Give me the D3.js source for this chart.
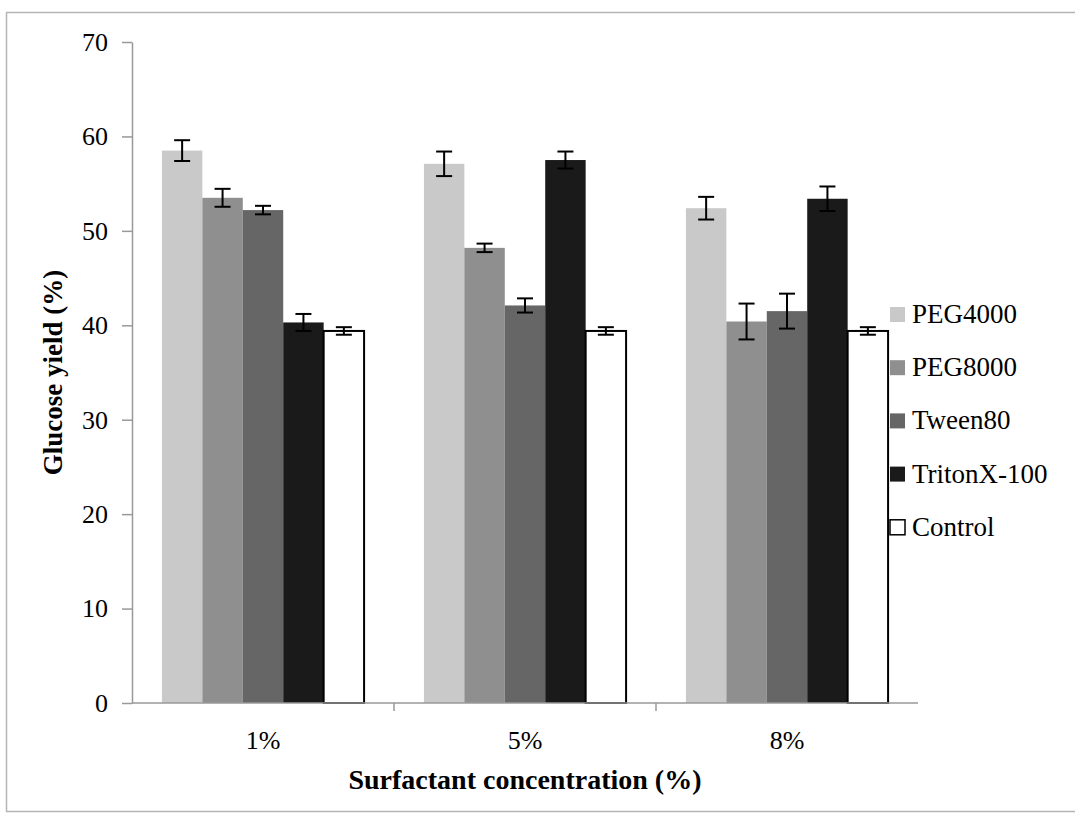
<!DOCTYPE html>
<meta charset="utf-8">

<!-- Load d3.js -->
<script src="https://d3js.org/d3.v7.min.js"></script>

<style>
  body { margin: 0; background: #fff; }
  text { font-family: "Liberation Serif", "Times New Roman", serif; fill: #000; }
</style>

<svg id="dataviz" width="1075" height="818"></svg>

<script>

// chart values
var groups = ["1%", "5%", "8%"];
var series = ["PEG4000", "PEG8000", "Tween80", "TritonX-100", "Control"];
var peg4000 = [58.5, 57.1, 52.4];
var peg8000 = [53.5, 48.2, 40.4];
var tween80 = [52.2, 42.1, 41.5];
var triton = [40.3, 57.5, 53.4];
var control = [39.4, 39.4, 39.4];
var errPeg4000 = [1.1, 1.3, 1.2];
var errPeg8000 = [0.95, 0.45, 1.9];
var errTween80 = [0.45, 0.75, 1.85];
var errTriton = [0.9, 0.9, 1.3];
var errControl = [0.4, 0.4, 0.4];
var yTicks = [0, 10, 20, 30, 40, 50, 60, 70];

var values = [peg4000, peg8000, tween80, triton, control];
var errors = [errPeg4000, errPeg8000, errTween80, errTriton, errControl];
var colors = ["#c9c9c9", "#8f8f8f", "#666666", "#1a1a1a", "#ffffff"];

var margin = {top: 42, left: 132};
var width = 786, height = 661;

var svg = d3.select("#dataviz");

// outer frame
svg.append("rect")
  .attr("x", 6.5).attr("y", 12.5)
  .attr("width", 1100).attr("height", 799)
  .attr("fill", "none")
  .attr("stroke", "#b5b5b5")
  .attr("stroke-width", 1.5);

var g = svg.append("g")
  .attr("transform", "translate(" + margin.left + "," + margin.top + ")");

var x = d3.scaleBand()
  .domain(groups)
  .range([0, width])
  .padding(0);

var xSub = d3.scaleBand()
  .domain(series)
  .range([0, x.bandwidth()])
  .paddingInner(0)
  .paddingOuter(0.74);

var y = d3.scaleLinear()
  .domain([0, 70])
  .range([height, 0]);

var color = d3.scaleOrdinal().domain(series).range(colors);

// flatten into one record per bar
var data = [];
groups.forEach(function(gr, i) {
  series.forEach(function(s, j) {
    data.push({group: gr, key: s, value: values[j][i], err: errors[j][i]});
  });
});

// bars
g.append("g")
  .selectAll("rect")
  .data(data)
  .enter()
  .append("rect")
    .attr("x", function(d) { return x(d.group) + xSub(d.key); })
    .attr("y", function(d) { return y(d.value); })
    .attr("width", xSub.bandwidth())
    .attr("height", function(d) { return height - y(d.value); })
    .attr("fill", function(d) { return color(d.key); })
    .attr("stroke", function(d) { return d.key == "Control" ? "#000" : "none"; })
    .attr("stroke-width", 2);

// y axis
var yAxis = g.append("g")
  .call(d3.axisLeft(y).tickValues(yTicks).tickSize(10).tickPadding(14).tickSizeOuter(0));
yAxis.select(".domain").attr("stroke", "#999").attr("stroke-width", 1.5);
yAxis.selectAll(".tick line").attr("stroke", "#999").attr("stroke-width", 1.5);
yAxis.selectAll("text")
  .style("font-family", "Liberation Serif")
  .style("font-size", "26px")
  .attr("fill", "#000");

// x axis: ticks sit between the groups
var xAxis = g.append("g")
  .attr("transform", "translate(0," + height + ")");
xAxis.append("line")
  .attr("x1", 0).attr("x2", width)
  .attr("stroke", "#999").attr("stroke-width", 1.5);
xAxis.selectAll(".sep")
  .data(groups.slice(1))
  .enter()
  .append("line")
    .attr("x1", function(d) { return x(d); })
    .attr("x2", function(d) { return x(d); })
    .attr("y1", 0).attr("y2", 8)
    .attr("stroke", "#999").attr("stroke-width", 1.5);
xAxis.selectAll(".lab")
  .data(groups)
  .enter()
  .append("text")
    .attr("x", function(d) { return x(d) + x.bandwidth() / 2; })
    .attr("y", 46)
    .attr("text-anchor", "middle")
    .style("font-size", "26px")
    .text(function(d) { return d; });

// error bars
var eb = g.append("g")
  .selectAll("g")
  .data(data)
  .enter()
  .append("g")
    .attr("transform", function(d) { return "translate(" + (x(d.group) + xSub(d.key) + xSub.bandwidth() / 2) + ",0)"; });
eb.append("line")
  .attr("y1", function(d) { return y(d.value + d.err); })
  .attr("y2", function(d) { return y(d.value - d.err); })
  .attr("stroke", "#000").attr("stroke-width", 2);
eb.append("line")
  .attr("x1", -8).attr("x2", 8)
  .attr("y1", function(d) { return y(d.value + d.err); })
  .attr("y2", function(d) { return y(d.value + d.err); })
  .attr("stroke", "#000").attr("stroke-width", 2);
eb.append("line")
  .attr("x1", -8).attr("x2", 8)
  .attr("y1", function(d) { return y(d.value - d.err); })
  .attr("y2", function(d) { return y(d.value - d.err); })
  .attr("stroke", "#000").attr("stroke-width", 2);

// axis titles
svg.append("text")
  .attr("x", margin.left + width / 2)
  .attr("y", 789)
  .attr("text-anchor", "middle")
  .style("font-size", "28px")
  .style("font-weight", "bold")
  .text("Surfactant concentration (%)");

svg.append("text")
  .attr("transform", "translate(62," + (margin.top + height / 2) + ") rotate(-90)")
  .attr("text-anchor", "middle")
  .style("font-size", "27px")
  .style("font-weight", "bold")
  .text("Glucose yield (%)");

// legend
var legend = svg.append("g")
  .selectAll("g")
  .data(series)
  .enter()
  .append("g")
    .attr("transform", function(d, i) { return "translate(890," + (314 + i * 53.2) + ")"; });
legend.append("rect")
  .attr("x", 0).attr("y", -7)
  .attr("width", 15).attr("height", 15)
  .attr("fill", function(d) { return color(d); })
  .attr("stroke", function(d) { return d == "Control" ? "#000" : "none"; })
  .attr("stroke-width", 1.5);
legend.append("text")
  .attr("x", 22)
  .attr("y", 9)
  .style("font-size", "27px")
  .text(function(d) { return d; });

</script>
